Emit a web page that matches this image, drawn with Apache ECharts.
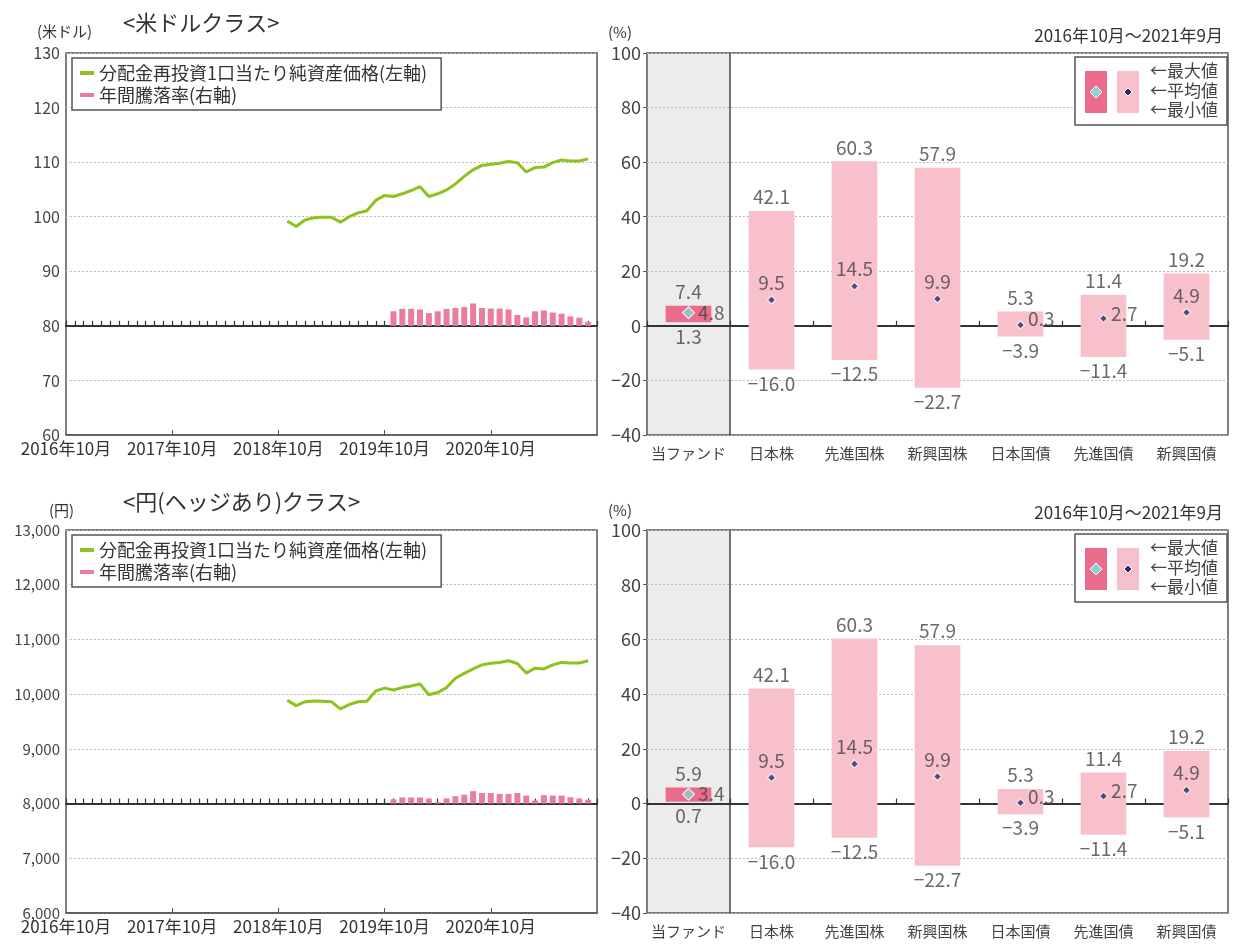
<!DOCTYPE html>
<html>
<head>
<meta charset="utf-8">
<script src="https://cdn.jsdelivr.net/npm/echarts@6/dist/echarts.min.js"></script>
<style>
  html, body { margin: 0; padding: 0; background: #fff; }
  #main { width: 1234px; height: 944px; }
</style>
</head>
<body>
<div id="main"></div>
<script>
// 月次カテゴリ 2016年10月〜2021年10月
const months = []
for (let i = 0; i <= 60; i++) {
  const m = (9 + i) % 12 + 1
  const y = 2016 + Math.floor((9 + i) / 12)
  months.push(y + '年' + m + '月')
}

// 基準価額は2018年11月から、年間騰落率は2019年11月から
const NAV_START = 25
const RET_START = 37

const usdNav = [99.2, 98.2, 99.4, 99.8, 99.9, 99.9, 99.0, 100.0, 100.7, 101.1,
  103.0, 103.9, 103.7, 104.2, 104.8, 105.5, 103.7, 104.2, 104.9, 106.0,
  107.4, 108.6, 109.4, 109.6, 109.8, 110.1, 109.9, 108.2, 109.0, 109.1,
  109.9, 110.4, 110.2, 110.2, 110.6]
const usdRet = [4.8, 5.6, 5.6, 5.4, 4.2, 4.8, 5.6, 5.9, 6.2, 7.4, 5.9, 5.7,
  5.7, 5.4, 3.6, 2.8, 4.8, 5.1, 4.4, 4.0, 3.1, 2.7, 1.3]

const jpyNav = [9890, 9790, 9860, 9875, 9870, 9860, 9730, 9810, 9860, 9870,
  10060, 10110, 10075, 10120, 10150, 10185, 9990, 10030, 10120, 10290,
  10380, 10460, 10535, 10565, 10580, 10610, 10560, 10385, 10475, 10460,
  10535, 10580, 10570, 10570, 10610]
const jpyRet = [2.0, 2.9, 2.9, 2.9, 2.4, 0.7, 2.4, 3.5, 4.2, 5.9, 5.0, 5.0,
  4.6, 4.6, 5.0, 3.8, 1.5, 4.0, 3.8, 3.8, 3.0, 2.4, 1.8]

// 右側：資産クラス比較
const assetCats = ['当ファンド', '日本株', '先進国株', '新興国株', '日本国債', '先進国債', '新興国債']
const usdMax = [7.4, 42.1, 60.3, 57.9, 5.3, 11.4, 19.2]
const usdAvg = [4.8, 9.5, 14.5, 9.9, 0.3, 2.7, 4.9]
const usdMin = [1.3, -16.0, -12.5, -22.7, -3.9, -11.4, -5.1]
const jpyMax = [5.9, 42.1, 60.3, 57.9, 5.3, 11.4, 19.2]
const jpyAvg = [3.4, 9.5, 14.5, 9.9, 0.3, 2.7, 4.9]
const jpyMin = [0.7, -16.0, -12.5, -22.7, -3.9, -11.4, -5.1]

const LINE_NAME = '分配金再投資1口当たり純資産価格(左軸)'
const BAR_NAME = '年間騰落率(右軸)'
const FONT = '"Noto Sans CJK JP", "Noto Sans", sans-serif'
const TXT = '#444'
const meanPos = ['right', 'top', 'top', 'top', 'right', 'right', 'top']
const meanOffset = [[0, 0], [0, 0], [0, 0], [0, 0], [0, -6], [0, -5], [0, 0]]

function pad(arr, start) {
  return months.map((_, i) => (i >= start && i < start + arr.length) ? arr[i - start] : null)
}
function fmt(v) {
  return v < 0 ? '−' + Math.abs(v).toFixed(1) : v.toFixed(1)
}

// 範囲バー
function rangeItem(params, api) {
  const i = api.value(0)
  const top = api.coord([i, api.value(2)])
  const bot = api.coord([i, api.value(1)])
  const w = api.size([1, 0])[0] * 0.55
  return {
    type: 'rect',
    shape: { x: top[0] - w / 2, y: top[1], width: w, height: bot[1] - top[1] },
    style: { fill: i === 0 ? '#ea6b8c' : '#f7c0cb' }
  }
}
// 当ファンドの背景
function bandItem(params, api) {
  const a = api.coord([0, api.value(2)])
  const b = api.coord([0, api.value(1)])
  const bw = api.size([1, 0])[0]
  return {
    type: 'group',
    children: [
      { type: 'rect', shape: { x: a[0] - bw / 2, y: a[1], width: bw, height: b[1] - a[1] }, style: { fill: '#ececec' } },
      { type: 'line', shape: { x1: a[0] + bw / 2, y1: a[1], x2: a[0] + bw / 2, y2: b[1] }, style: { stroke: '#444', lineWidth: 1.5 } }
    ]
  }
}

function leftSeries(xi, yi, yr, nav, ret) {
  return [
    {
      name: BAR_NAME, type: 'bar', xAxisIndex: xi, yAxisIndex: yr,
      data: pad(ret, RET_START), barWidth: 6, color: '#ea7d9b', z: 2
    },
    {
      name: LINE_NAME, type: 'line', xAxisIndex: xi, yAxisIndex: yi,
      data: pad(nav, NAV_START), symbol: 'none', color: '#8dc21f',
      lineStyle: { width: 3 }, z: 3
    }
  ]
}

function rightSeries(xi, yi, mx, av, mn) {
  const lbl = { show: true, fontSize: 19, color: TXT, fontFamily: FONT }
  return [
    {
      type: 'custom', xAxisIndex: xi, yAxisIndex: yi, z: -1, silent: true,
      renderItem: bandItem, data: [[0, -40, 100]], encode: { x: 0, y: [1, 2] }
    },
    {
      type: 'custom', xAxisIndex: xi, yAxisIndex: yi, z: 2,
      renderItem: rangeItem, data: mn.map((v, i) => [i, v, mx[i]]), encode: { x: 0, y: [1, 2] }
    },
    {
      type: 'scatter', xAxisIndex: xi, yAxisIndex: yi, symbolSize: 1,
      itemStyle: { color: 'transparent' },
      label: Object.assign({ position: 'top', distance: 4, formatter: p => fmt(p.value[1]) }, lbl),
      data: mx.map((v, i) => [i, v])
    },
    {
      type: 'scatter', xAxisIndex: xi, yAxisIndex: yi, symbolSize: 1,
      itemStyle: { color: 'transparent' },
      label: Object.assign({ position: 'bottom', distance: 4, formatter: p => fmt(p.value[1]) }, lbl),
      data: mn.map((v, i) => [i, v])
    },
    {
      type: 'scatter', xAxisIndex: xi, yAxisIndex: yi, symbol: 'diamond', z: 4,
      label: Object.assign({ distance: 3, formatter: p => fmt(p.value[1]) }, lbl),
      data: av.map((v, i) => ({
        value: [i, v],
        symbolSize: i === 0 ? 12 : 8,
        itemStyle: { color: i === 0 ? '#86d3cf' : '#2c2766', borderColor: '#fff', borderWidth: 1.2 },
        label: { position: meanPos[i], offset: meanOffset[i] }
      }))
    }
  ]
}

function legendBox(top) {
  const t = { fontSize: 17, fill: TXT, fontFamily: FONT }
  return [
    { type: 'rect', z: 100, shape: { x: 1075, y: top + 4, width: 152, height: 68 }, style: { fill: '#fff', stroke: '#555', lineWidth: 1.5 } },
    { type: 'rect', z: 100, shape: { x: 1085, y: top + 18, width: 22, height: 42 }, style: { fill: '#ea6b8c' } },
    { type: 'rect', z: 100, shape: { x: 1117, y: top + 18, width: 22, height: 42 }, style: { fill: '#f7c0cb' } },
    { type: 'polygon', z: 101, shape: { points: [[1096, top + 33], [1102, top + 39], [1096, top + 45], [1090, top + 39]] }, style: { fill: '#86d3cf', stroke: '#fff', lineWidth: 1 } },
    { type: 'polygon', z: 101, shape: { points: [[1128, top + 35], [1132, top + 39], [1128, top + 43], [1124, top + 39]] }, style: { fill: '#2c2766', stroke: '#fff', lineWidth: 1 } },
    { type: 'text', z: 101, left: 1150, top: top + 9, style: Object.assign({ text: '←最大値' }, t) },
    { type: 'text', z: 101, left: 1150, top: top + 29, style: Object.assign({ text: '←平均値' }, t) },
    { type: 'text', z: 101, left: 1150, top: top + 48, style: Object.assign({ text: '←最小値' }, t) }
  ]
}

const gridBase = { show: true, borderColor: '#555', borderWidth: 1.5, backgroundColor: 'transparent' }
const dotted = { show: true, lineStyle: { color: '#bbb', type: [2, 2], width: 1 } }

function monthLabelAxis(gi) {
  return {
    gridIndex: gi, type: 'category', data: months, boundaryGap: false, position: 'bottom',
    axisLine: { onZero: false, lineStyle: { color: '#555', width: 1.5 } },
    axisTick: { inside: true, length: 5, interval: i => i % 12 === 0 && i > 0 && i < 60, lineStyle: { color: '#555' } },
    axisLabel: { interval: i => i % 12 === 0 && i < 60, fontSize: 17, color: '#333', margin: 5, fontFamily: FONT },
    splitLine: { show: false }
  }
}
function zeroAxis(gi, data, yi, gap) {
  return {
    gridIndex: gi, type: 'category', data: data, boundaryGap: gap, position: 'bottom',
    axisLine: { onZero: true, onZeroAxisIndex: yi, lineStyle: { color: '#333', width: 2 } },
    axisTick: { show: true, inside: true, interval: 0, length: 5, lineStyle: { color: '#333', width: 1.2 } },
    axisLabel: { show: false }, splitLine: { show: false }
  }
}
function catLabelAxis(gi) {
  return {
    gridIndex: gi, type: 'category', data: assetCats, position: 'bottom',
    axisLine: { onZero: false, show: false }, axisTick: { show: false },
    axisLabel: { interval: 0, fontSize: 15, color: TXT, margin: 11, fontFamily: FONT },
    splitLine: { show: false }
  }
}
function pctAxis(gi) {
  return {
    gridIndex: gi, type: 'value', min: -40, max: 100, interval: 20, position: 'left',
    axisLine: { show: false }, axisTick: { show: true, length: 4, lineStyle: { color: '#555' } },
    axisLabel: { fontSize: 18, color: TXT, margin: 6, fontFamily: FONT, formatter: v => v < 0 ? '−' + (-v) : v },
    splitLine: dotted
  }
}

const titleText = (text, left, top, size) => ({
  text: text, left: left, top: top,
  textStyle: { fontSize: size, fontWeight: 'normal', color: '#333', fontFamily: FONT }
})

let mychart = echarts.init(document.getElementById('main'))
let option = {
  animation: false,
  textStyle: { fontFamily: FONT },
  title: [
    titleText('<米ドルクラス>', 118, 7, 22),
    titleText('(米ドル)', 32, 19, 15),
    titleText('(%)', 603, 20, 15),
    { text: '2016年10月～2021年9月', right: 6, top: 22, textStyle: { fontSize: 17, fontWeight: 'normal', color: '#333', fontFamily: FONT } },
    titleText('<円(ヘッジあり)クラス>', 118, 486, 22),
    titleText('(円)', 44, 498, 15),
    titleText('(%)', 603, 498, 15),
    { text: '2016年10月～2021年9月', right: 6, top: 499, textStyle: { fontSize: 17, fontWeight: 'normal', color: '#333', fontFamily: FONT } }
  ],
  legend: [53, 530].map(top => ({
    data: [LINE_NAME, BAR_NAME], orient: 'vertical', left: 72, top: top + 5,
    icon: 'rect', itemWidth: 14, itemHeight: 4, itemGap: 4,
    padding: [6, 14, 6, 8], borderColor: '#555', borderWidth: 1.5, backgroundColor: '#fff',
    textStyle: { fontSize: 18, color: '#333', fontFamily: FONT }
  })),
  grid: [
    Object.assign({ left: 66, top: 53, width: 531, height: 382 }, gridBase),
    Object.assign({ left: 647, top: 53, width: 581, height: 382 }, gridBase),
    Object.assign({ left: 66, top: 530, width: 531, height: 383 }, gridBase),
    Object.assign({ left: 647, top: 530, width: 581, height: 383 }, gridBase)
  ],
  xAxis: [
    monthLabelAxis(0),
    zeroAxis(0, months, 1, false),
    catLabelAxis(1),
    zeroAxis(1, assetCats, 2, true),
    monthLabelAxis(2),
    zeroAxis(2, months, 4, false),
    catLabelAxis(3),
    zeroAxis(3, assetCats, 5, true)
  ],
  yAxis: [
    {
      gridIndex: 0, type: 'value', min: 60, max: 130, interval: 10, position: 'left',
      axisLine: { show: false }, axisTick: { show: false },
      axisLabel: { fontSize: 16, color: TXT, margin: 6, fontFamily: FONT },
      splitLine: dotted
    },
    { gridIndex: 0, type: 'value', min: -36, max: 90, position: 'right', show: false },
    pctAxis(1),
    {
      gridIndex: 2, type: 'value', min: 6000, max: 13000, interval: 1000, position: 'left',
      axisLine: { show: false }, axisTick: { show: false },
      axisLabel: { fontSize: 15, color: TXT, margin: 6, fontFamily: FONT, formatter: v => v.toLocaleString('en-US') },
      splitLine: dotted
    },
    { gridIndex: 2, type: 'value', min: -52, max: 130, position: 'right', show: false },
    pctAxis(3)
  ],
  graphic: legendBox(53).concat(legendBox(530)),
  series: [].concat(
    leftSeries(0, 0, 1, usdNav, usdRet),
    rightSeries(2, 2, usdMax, usdAvg, usdMin),
    leftSeries(4, 3, 4, jpyNav, jpyRet),
    rightSeries(6, 5, jpyMax, jpyAvg, jpyMin)
  )
}
mychart.setOption(option)
window.addEventListener('resize', function () {
  mychart.resize()
})
</script>
</body>
</html>
